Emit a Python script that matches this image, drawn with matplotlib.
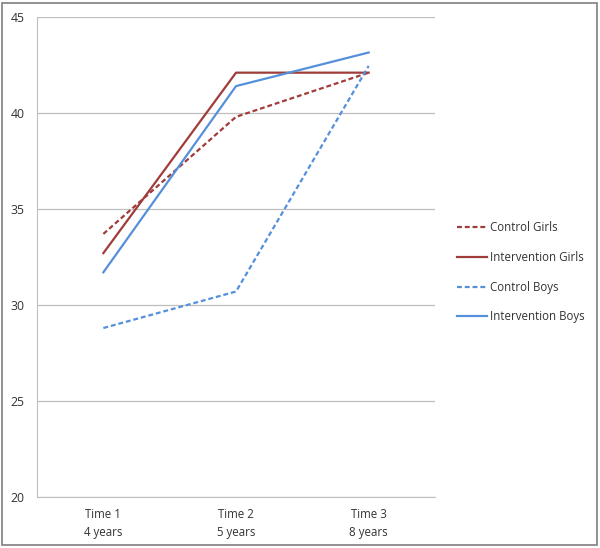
import matplotlib.pyplot as plt
from matplotlib.patches import Rectangle

# values
categories = ["Time 1\n4 years", "Time 2\n5 years", "Time 3\n8 years"]
control_girls = [33.7, 39.8, 42.1]
intervention_girls = [32.7, 42.1, 42.1]
control_boys = [28.8, 30.7, 42.45]
intervention_boys = [31.7, 41.4, 43.15]
y_ticks = [20, 25, 30, 35, 40, 45]

RED = "#A03C3A"
BLUE = "#5590DA"

plt.rcParams["font.family"] = ["Open Sans", "DejaVu Sans"]

fig = plt.figure(figsize=(6.0, 5.48), dpi=100)
ax = fig.add_axes([0.0617, 0.0931, 0.6633, 0.8759])

x = list(range(len(categories)))
dash = (0, (2.2, 1.3))
ax.plot(x, control_girls, color=RED, linewidth=1.6, linestyle=dash, label="Control Girls")
ax.plot(x, intervention_girls, color=RED, linewidth=1.6, label="Intervention Girls")
ax.plot(x, control_boys, color=BLUE, linewidth=1.6, linestyle=dash, label="Control Boys")
ax.plot(x, intervention_boys, color=BLUE, linewidth=1.6, label="Intervention Boys")

ax.set_xlim(-0.5, len(categories) - 0.5)
ax.set_ylim(20, 45)
ax.set_yticks(y_ticks)
ax.set_xticks(x)
ax.set_xticklabels(categories, fontsize=8.3, color="#333333", linespacing=1.45)
ax.tick_params(axis="y", labelsize=8.8, colors="#333333", length=0, pad=9)
ax.tick_params(axis="x", length=0, pad=8)
ax.grid(True, axis="y", color="#BFBFBF", linewidth=0.9)
ax.set_axisbelow(True)
for side in ("top", "right"):
    ax.spines[side].set_visible(False)
ax.spines["left"].set_color("#BFBFBF")
ax.spines["bottom"].set_color("#BFBFBF")

leg = fig.legend(loc="center left", bbox_to_anchor=(0.745, 0.503), frameon=False,
                 fontsize=8.3, handlelength=2.6, handletextpad=0.25, labelspacing=1.45)
for t in leg.get_texts():
    t.set_color("#333333")

fig.patches.append(Rectangle((0.004, 0.005), 0.991, 0.99, transform=fig.transFigure,
                             fill=False, edgecolor="#7F7F7F", linewidth=1.2))

fig.savefig("out.png", dpi=100)
